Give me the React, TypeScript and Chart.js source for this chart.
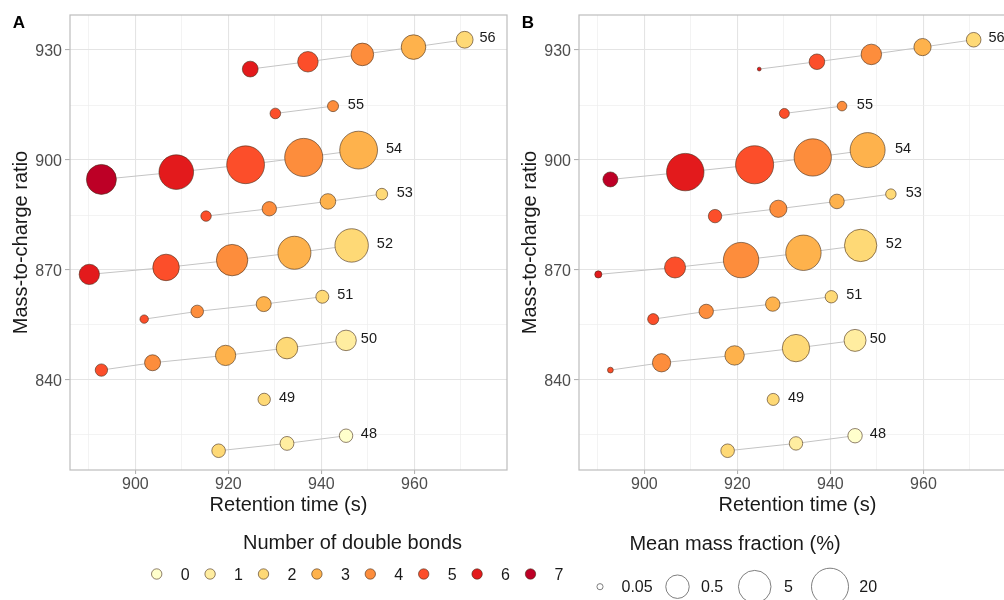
import React, { useEffect, useRef } from "react";
import { Chart, registerables } from "chart.js";

Chart.register(...registerables);

const FONT = "'Liberation Sans', Arial, Helvetica, sans-serif";

// Triacylglycerol series, identified by total carbon number
const carbonNumbers = [56, 55, 54, 53, 52, 51, 50, 49, 48];

// Number of double bonds for each point of each series
const doubleBonds = [
  [6, 5, 4, 3, 2],
  [5, 4],
  [7, 6, 5, 4, 3],
  [5, 4, 3, 2],
  [6, 5, 4, 3, 2],
  [5, 4, 3, 2],
  [5, 4, 3, 2, 1],
  [2],
  [2, 1, 0],
];

// Retention time (s)
const retentionTimes = [
  [924.7, 937.1, 948.8, 959.8, 970.8],
  [930.1, 942.5],
  [892.7, 908.8, 923.7, 936.2, 948.0],
  [915.2, 928.8, 941.4, 953.0],
  [890.1, 906.6, 920.8, 934.2, 946.5],
  [901.9, 913.3, 927.6, 940.2],
  [892.7, 903.7, 919.4, 932.6, 945.3],
  [927.7],
  [917.9, 932.6, 945.3],
];

// Mass-to-charge ratio
const massToCharge = [
  [924.8, 926.8, 928.8, 930.8, 932.8],
  [912.7, 914.7],
  [894.7, 896.7, 898.7, 900.7, 902.7],
  [884.7, 886.7, 888.7, 890.7],
  [868.8, 870.7, 872.7, 874.7, 876.7],
  [856.6, 858.7, 860.7, 862.7],
  [842.7, 844.7, 846.7, 848.7, 850.8],
  [834.7],
  [820.7, 822.7, 824.8],
];

// Mean mass fraction (%) in sample A
const massFractionA = [
  [0.13, 0.28, 0.42, 0.64, 0.15],
  [0.07, 0.073],
  [2.4, 9.2, 26, 29, 26],
  [0.069, 0.107, 0.126, 0.077],
  [0.27, 1.0, 3.6, 5.7, 6.4],
  [0.058, 0.086, 0.116, 0.09],
  [0.084, 0.133, 0.27, 0.34, 0.28],
  [0.084],
  [0.097, 0.1, 0.095],
];

// Mean mass fraction (%) in sample B
const massFractionB = [
  [0.045, 0.126, 0.28, 0.16, 0.11],
  [0.066, 0.064],
  [0.116, 23, 29, 22, 10.4],
  [0.095, 0.16, 0.11, 0.069],
  [0.053, 0.31, 11.8, 11.8, 4.7],
  [0.073, 0.107, 0.107, 0.084],
  [0.049, 0.19, 0.23, 1.23, 0.37],
  [0.081],
  [0.097, 0.095, 0.107],
];

const bondLevels = [0, 1, 2, 3, 4, 5, 6, 7];
const bondColors = ["#FFFFCC", "#FFEDA0", "#FED976", "#FEB24C", "#FD8D3C", "#FC4E2A", "#E31A1C", "#BD0026"];

const sizeBreaks = [0.05, 0.5, 5, 20];

const xTickValues = [890, 900, 910, 920, 930, 940, 950, 960, 970];
const xMajorTicks = [900, 920, 940, 960];
const yTickValues = [825, 840, 855, 870, 885, 900, 915, 930];
const yMajorTicks = [840, 870, 900, 930];

// Bubble area grows with the logarithm of the mass fraction
const SIZE_INTERCEPT = 176;
const SIZE_SLOPE = 128;
function bubbleRadius(fraction: number) {
  return Math.sqrt(Math.max(3, SIZE_INTERCEPT + SIZE_SLOPE * Math.log10(fraction)));
}

// Series labels sit right of the last point, pushed clear of large bubbles
function labelOffset(s: number) {
  const last = retentionTimes[s].length - 1;
  const r = Math.max(bubbleRadius(massFractionA[s][last]), bubbleRadius(massFractionB[s][last]));
  return r > 14 ? r + 8.5 : 14.8;
}

const PANEL_W = 509;
const PANEL_H = 525;

const GRID_MAJOR = "#E4E4E4";
const GRID_MINOR = "#EEEEEE";
const FRAME = "#BDBDBD";

// Keep the plot area fixed: no extra room reserved for overhanging tick labels
function noLabelPadding(axis: any) {
  axis.paddingLeft = 0;
  axis.paddingRight = 0;
  axis.paddingTop = 0;
  axis.paddingBottom = 0;
}

const panelDecor = {
  id: "panelDecor",
  afterDatasetsDraw(chart: any, _args: any, opts: any) {
    const { ctx, chartArea } = chart;
    ctx.save();
    ctx.font = `14.5px ${FONT}`;
    ctx.fillStyle = "#1A1A1A";
    ctx.textAlign = "left";
    ctx.textBaseline = "alphabetic";
    chart.data.datasets.forEach((ds: any, di: number) => {
      if (ds.type !== "bubble") return;
      const meta = chart.getDatasetMeta(di);
      const el = meta.data[meta.data.length - 1];
      ctx.fillText(ds.label, el.x + labelOffset(ds.seriesIndex), el.y + 2.5);
    });
    ctx.strokeStyle = FRAME;
    ctx.lineWidth = 1.2;
    ctx.strokeRect(chartArea.left, chartArea.top, chartArea.right - chartArea.left, chartArea.bottom - chartArea.top);
    ctx.font = `bold 17px ${FONT}`;
    ctx.fillStyle = "#000";
    ctx.fillText(opts.tag, 12.7, 28);
    ctx.restore();
  },
};

function Panel({ tag, fractions, left }: { tag: string; fractions: number[][]; left: number }) {
  const ref = useRef<HTMLCanvasElement>(null);

  useEffect(() => {
    const datasets: any[] = [];
    carbonNumbers.forEach((cn, s) => {
      const points = retentionTimes[s].map((x, i) => ({
        x,
        y: massToCharge[s][i],
        r: bubbleRadius(fractions[s][i]),
      }));
      datasets.push({
        type: "line",
        data: points.map((p) => ({ x: p.x, y: p.y })),
        borderColor: "#C4C4C4",
        borderWidth: 1,
        pointRadius: 0,
        pointHoverRadius: 0,
        fill: false,
        order: 2,
      });
      datasets.push({
        type: "bubble",
        label: String(cn),
        seriesIndex: s,
        data: points,
        backgroundColor: doubleBonds[s].map((b) => bondColors[b]),
        borderColor: "rgba(70,45,25,0.75)",
        borderWidth: 0.8,
        order: 1,
      });
    });

    const gridColor = (major: number[]) => (ctx: any) =>
      ctx.tick && major.includes(ctx.tick.value) ? GRID_MAJOR : GRID_MINOR;
    const gridWidth = (major: number[]) => (ctx: any) =>
      ctx.tick && major.includes(ctx.tick.value) ? 1.1 : 0.7;
    const tickColor = (major: number[]) => (ctx: any) =>
      ctx.tick && major.includes(ctx.tick.value) ? "#B3B3B3" : "rgba(0,0,0,0)";

    const chart = new Chart(ref.current!, {
      type: "bubble",
      data: { datasets },
      plugins: [panelDecor],
      options: {
        responsive: false,
        animation: false,
        devicePixelRatio: 1,
        events: [],
        layout: { autoPadding: false, padding: { top: 15, right: 2, bottom: 0, left: 0 } },
        plugins: {
          legend: { display: false },
          tooltip: { enabled: false },
          panelDecor: { tag },
        } as any,
        scales: {
          x: {
            type: "linear",
            min: 885.95,
            max: 979.9,
            afterBuildTicks: (axis: any) => {
              axis.ticks = xTickValues.map((value) => ({ value }));
            },
            afterFit: (axis: any) => {
              axis.height = 55;
              noLabelPadding(axis);
            },
            ticks: {
              autoSkip: false,
              maxRotation: 0,
              padding: 1,
              color: "#4D4D4D",
              font: { size: 16, family: FONT },
              callback: (v: any) => (xMajorTicks.includes(v) ? String(v) : ""),
            },
            grid: {
              color: gridColor(xMajorTicks),
              lineWidth: gridWidth(xMajorTicks),
              tickColor: tickColor(xMajorTicks),
              tickLength: 4,
              drawTicks: true,
            },
            border: { display: false },
            title: {
              display: true,
              text: "Retention time (s)",
              color: "#1A1A1A",
              font: { size: 20, family: FONT },
              padding: { top: 0, bottom: 8 },
            },
          },
          y: {
            type: "linear",
            min: 815.45,
            max: 939.55,
            afterBuildTicks: (axis: any) => {
              axis.ticks = yTickValues.map((value) => ({ value }));
            },
            afterFit: (axis: any) => {
              axis.width = 70;
              noLabelPadding(axis);
            },
            ticks: {
              autoSkip: false,
              padding: 3,
              labelOffset: 1.5,
              color: "#4D4D4D",
              font: { size: 16, family: FONT },
              callback: (v: any) => (yMajorTicks.includes(v) ? String(v) : ""),
            },
            grid: {
              color: gridColor(yMajorTicks),
              lineWidth: gridWidth(yMajorTicks),
              tickColor: tickColor(yMajorTicks),
              tickLength: 5,
              drawTicks: true,
            },
            border: { display: false },
            title: {
              display: true,
              text: "Mass-to-charge ratio",
              color: "#1A1A1A",
              font: { size: 20, family: FONT },
              padding: { top: 9.4, bottom: 0 },
            },
          },
        },
      } as any,
    });
    return () => chart.destroy();
  }, [tag, fractions]);

  return (
    <canvas
      ref={ref}
      width={PANEL_W}
      height={PANEL_H}
      style={{ position: "absolute", left, top: 0, width: PANEL_W, height: PANEL_H }}
    />
  );
}

const sizeKeyCenters = [600, 677.5, 754.7, 830];
const sizeLabelX = [621.5, 701, 784, 859.3];

function Legends() {
  return (
    <svg
      width={1004}
      height={600}
      style={{ position: "absolute", left: 0, top: 0, pointerEvents: "none" }}
      fontFamily={FONT}
    >
      <text x={352.5} y={548.7} fontSize={20} textAnchor="middle" fill="#1A1A1A">
        Number of double bonds
      </text>
      {bondLevels.map((b, i) => {
        const cx = 156.7 + 53.4 * i;
        return (
          <g key={b}>
            <circle cx={cx} cy={574} r={5.2} fill={bondColors[b]} stroke="rgba(70,45,25,0.75)" strokeWidth={0.8} />
            <text x={cx + 24} y={579.8} fontSize={16} fill="#1A1A1A">
              {b}
            </text>
          </g>
        );
      })}
      <text x={735} y={549.7} fontSize={20} textAnchor="middle" fill="#1A1A1A">
        Mean mass fraction (%)
      </text>
      {sizeBreaks.map((v, i) => (
        <g key={v}>
          <circle cx={sizeKeyCenters[i]} cy={586.7} r={bubbleRadius(v)} fill="none" stroke="#707070" strokeWidth={0.9} />
          <text x={sizeLabelX[i]} y={592.4} fontSize={16} fill="#1A1A1A">
            {String(v)}
          </text>
        </g>
      ))}
    </svg>
  );
}

export default function App() {
  return (
    <div
      style={{
        position: "fixed",
        left: 0,
        top: 0,
        width: 1004,
        height: 600,
        overflow: "hidden",
        background: "#fff",
      }}
    >
      <Panel tag="A" fractions={massFractionA} left={0} />
      <Panel tag="B" fractions={massFractionB} left={509} />
      <Legends />
    </div>
  );
}
